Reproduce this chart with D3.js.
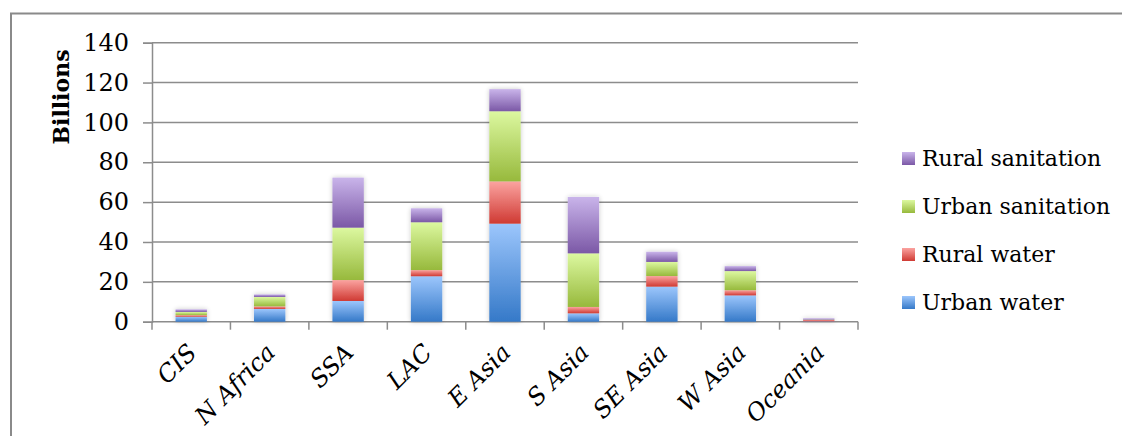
<!DOCTYPE html>
<html>
<head>
<meta charset="utf-8">
<script src="https://cdn.jsdelivr.net/npm/d3@7"></script>
<style>
  html, body { margin: 0; padding: 0; background: #fff; }
  svg { display: block; }
</style>
</head>
<body>
<svg id="chart" width="1122" height="436"></svg>
<script>
// Investment needs by region (billions)
const categories = ["CIS", "N Africa", "SSA", "LAC", "E Asia", "S Asia", "SE Asia", "W Asia", "Oceania"];
const urbanWater      = [2.5, 6.4, 10.4, 22.8, 49.2, 4.2, 17.6, 13.2, 0.2];
const ruralWater      = [0.8, 1.3, 10.5, 3.1, 21.2, 3.2, 5.3, 2.6, 0.7];
const urbanSanitation = [1.6, 4.7, 26.3, 24.0, 35.2, 26.9, 7.1, 9.6, 0.2];
const ruralSanitation = [1.3, 1.3, 25.1, 7.0, 11.1, 28.3, 5.1, 2.5, 0.6];
const yTicks = [0, 20, 40, 60, 80, 100, 120, 140];

const seriesNames = ["Urban water", "Rural water", "Urban sanitation", "Rural sanitation"];
const seriesValues = [urbanWater, ruralWater, urbanSanitation, ruralSanitation];
// light (top) and dark (bottom) stops of each series gradient
const seriesColors = [
  ["#9cc6fc", "#3579c8"],
  ["#fba3a0", "#cf3a33"],
  ["#dcf8a0", "#97b93c"],
  ["#c9b4ea", "#7b58a6"]
];

const svg = d3.select("#chart");
const serif = "'DejaVu Serif', 'Liberation Serif', serif";

const margin = { left: 152, right: 858, top: 42.7, bottom: 321.7 };
const x = d3.scaleBand().domain(categories).range([margin.left, margin.right]).paddingInner(0.6).paddingOuter(0.3);
const xTickScale = d3.scaleLinear().domain([0, categories.length]).range([margin.left, margin.right]);
const y = d3.scaleLinear().domain([0, 140]).range([margin.bottom, margin.top]);

// gradients and bar shadow
const defs = svg.append("defs");
seriesColors.forEach((c, i) => {
  const g = defs.append("linearGradient").attr("id", "grad" + i)
    .attr("x1", 0).attr("y1", 0).attr("x2", 0).attr("y2", 1);
  g.append("stop").attr("offset", "0%").attr("stop-color", c[0]);
  g.append("stop").attr("offset", "100%").attr("stop-color", c[1]);
});
const shadow = defs.append("filter").attr("id", "shadow")
  .attr("x", "-30%").attr("y", "-10%").attr("width", "160%").attr("height", "120%");
shadow.append("feGaussianBlur").attr("in", "SourceAlpha").attr("stdDeviation", 2.5).attr("result", "blur");
shadow.append("feComponentTransfer").attr("in", "blur").attr("result", "soft")
  .append("feFuncA").attr("type", "linear").attr("slope", 0.22);
const merge = shadow.append("feMerge");
merge.append("feMergeNode").attr("in", "soft");
merge.append("feMergeNode").attr("in", "SourceGraphic");

// chart frame
svg.append("path")
  .attr("d", "M11,436 L11,13.5 L1122,13.5")
  .attr("fill", "none").attr("stroke", "#8a8a8a").attr("stroke-width", 2);

// horizontal gridlines and value axis
const yAxis = d3.axisLeft(y).tickValues(yTicks).tickSize(9).tickPadding(14).tickFormat(d3.format("d"));
const yG = svg.append("g").attr("transform", `translate(${margin.left},0)`).call(yAxis);
yG.select(".domain").attr("stroke", "#8c8c8c").attr("stroke-width", 1.5);
yG.selectAll(".tick line").attr("stroke", "#8c8c8c").attr("stroke-width", 1.5);
yG.selectAll(".tick text").attr("font-family", serif).attr("font-size", 24).attr("fill", "#000");

svg.append("g").selectAll("line").data(yTicks.filter(d => d > 0)).join("line")
  .attr("x1", margin.left).attr("x2", margin.right)
  .attr("y1", d => y(d)).attr("y2", d => y(d))
  .attr("stroke", "#8c8c8c").attr("stroke-width", 1.5);

// category axis
svg.append("line")
  .attr("x1", margin.left).attr("x2", margin.right)
  .attr("y1", y(0)).attr("y2", y(0))
  .attr("stroke", "#8c8c8c").attr("stroke-width", 1.5);
svg.append("g").selectAll("line").data(d3.range(categories.length + 1)).join("line")
  .attr("x1", d => xTickScale(d)).attr("x2", d => xTickScale(d))
  .attr("y1", y(0)).attr("y2", y(0) + 8)
  .attr("stroke", "#8c8c8c").attr("stroke-width", 1.5);

// stacked bars
const rows = categories.map((c, i) => {
  const r = { category: c };
  seriesNames.forEach((s, k) => { r[s] = seriesValues[k][i]; });
  return r;
});
const stacked = d3.stack().keys(seriesNames)(rows);

const barsG = svg.append("g").attr("filter", "url(#shadow)");
stacked.forEach((layer, k) => {
  barsG.append("g").selectAll("rect").data(layer).join("rect")
    .attr("x", d => x(d.data.category))
    .attr("width", x.bandwidth())
    .attr("y", d => y(d[1]))
    .attr("height", d => Math.max(0, y(d[0]) - y(d[1])))
    .attr("fill", `url(#grad${k})`);
});

// rotated category labels
svg.append("g").selectAll("text").data(categories).join("text")
  .attr("transform", d => `translate(${x(d) + x.bandwidth() / 2 + 7},354) rotate(-45)`)
  .attr("text-anchor", "end")
  .attr("font-family", serif).attr("font-style", "italic").attr("font-size", 24)
  .attr("fill", "#000")
  .text(d => d);

// value axis title
svg.append("text")
  .attr("transform", "translate(69,97) rotate(-90)")
  .attr("text-anchor", "middle")
  .attr("font-family", serif).attr("font-weight", "bold").attr("font-size", 22)
  .attr("fill", "#000")
  .text("Billions");

// legend, top entry is the top of the stack
const legendOrder = [3, 2, 1, 0];
const legend = svg.append("g").selectAll("g").data(legendOrder).join("g")
  .attr("transform", (d, i) => `translate(902,${166 + i * 48})`);
legend.append("rect")
  .attr("x", 0).attr("y", -14).attr("width", 13).attr("height", 13)
  .attr("fill", d => `url(#grad${d})`);
legend.append("text")
  .attr("x", 20).attr("y", 0)
  .attr("font-family", serif).attr("font-size", 22).attr("fill", "#000")
  .text(d => seriesNames[d]);
</script>
</body>
</html>
